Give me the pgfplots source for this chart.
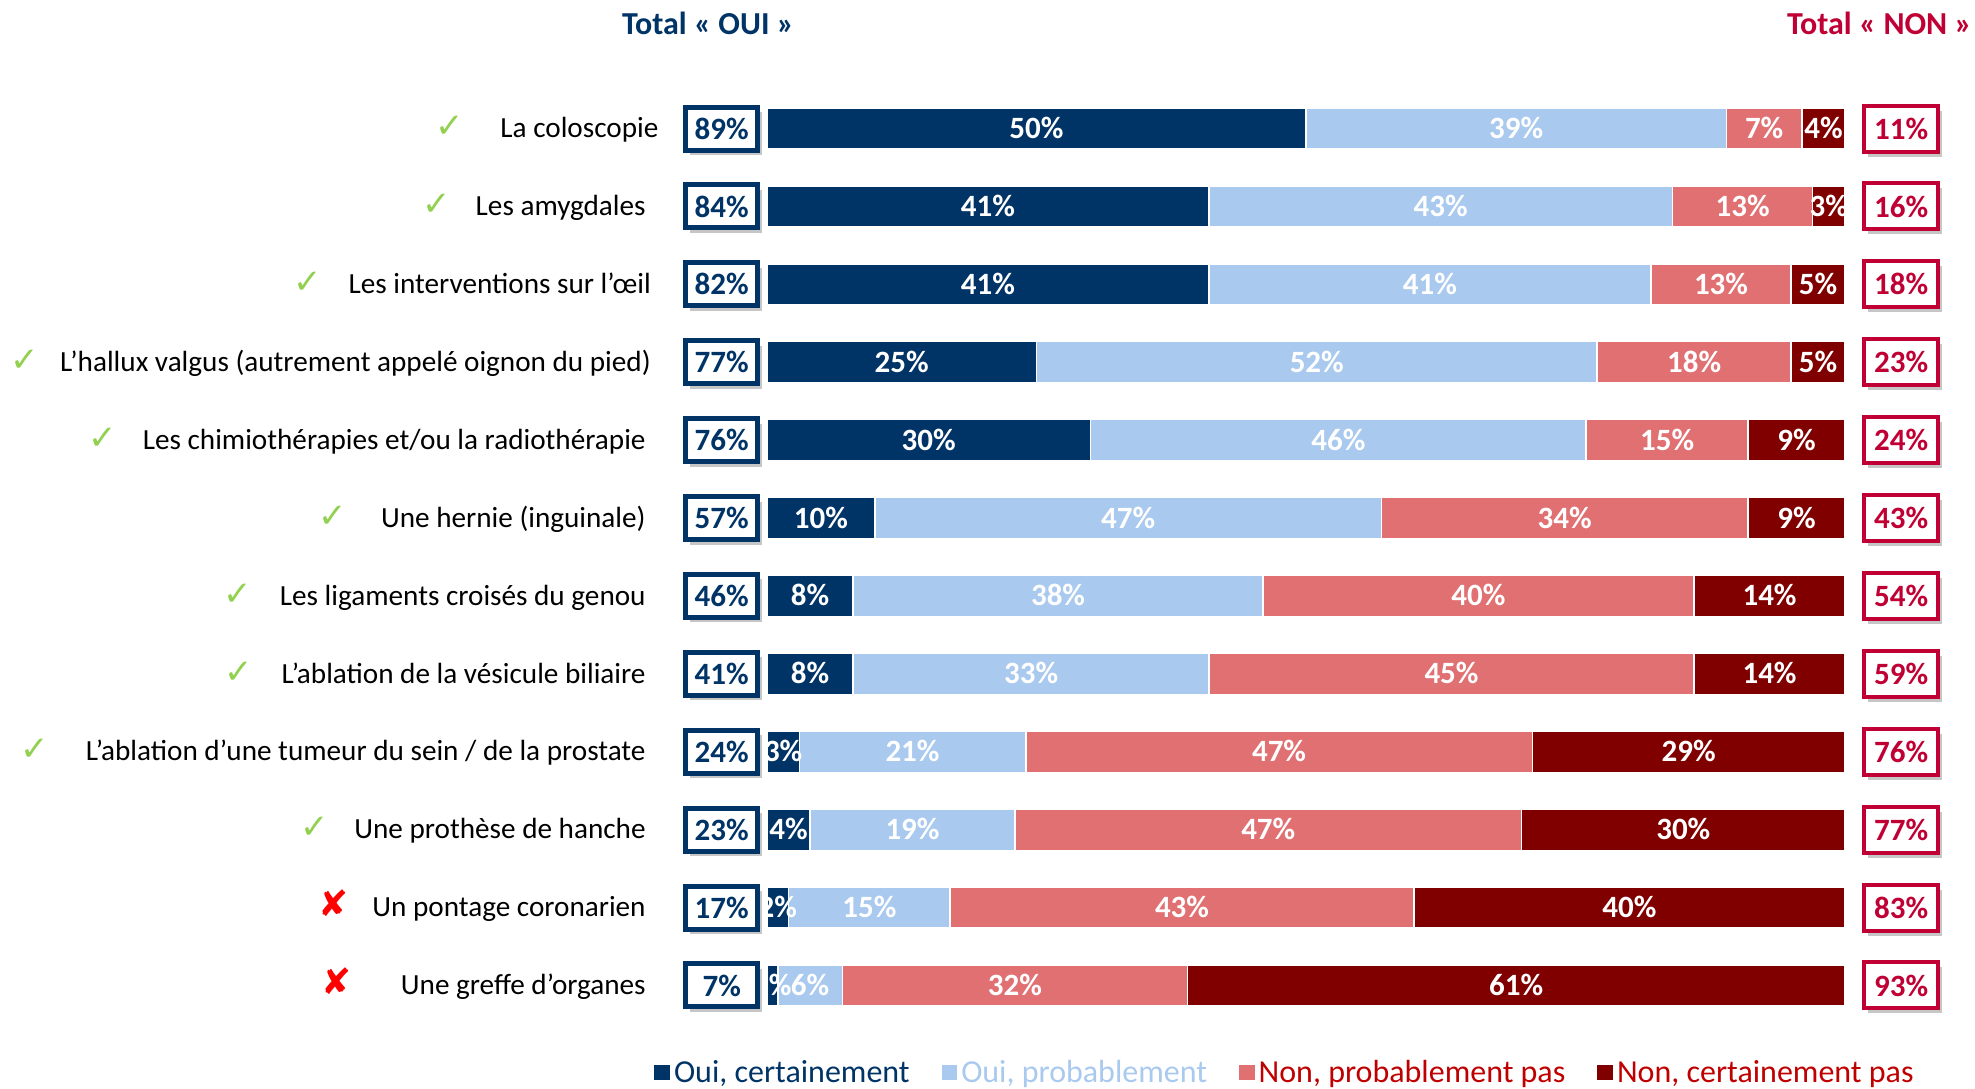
\documentclass[border=0pt]{standalone}
\usepackage{pgfplots}
\pgfplotsset{compat=1.18}
\usepackage{pgfplotstable}
\usepackage{fontspec}
\setmainfont{Carlito}
\newfontfamily\dejavu{DejaVu Sans}
\usetikzlibrary{shadows}
\definecolor{navy}{RGB}{0,51,102}
\definecolor{lblue}{RGB}{169,201,238}
\definecolor{salmon}{RGB}{224,112,114}
\definecolor{dred}{RGB}{128,0,0}
\definecolor{crim}{RGB}{192,0,52}
\definecolor{nonred}{RGB}{192,0,0}
\definecolor{chkgreen}{RGB}{146,208,80}
\definecolor{xred}{RGB}{255,0,0}

\pgfplotstableread{
y a b c d oui non xl xr
0 50 39 7 4 89 11 -4.2 105.2
1 41 43 13 3 84 16 -4.2 105.2
2 41 41 13 5 82 18 -4.2 105.2
3 25 52 18 5 77 23 -4.2 105.2
4 30 46 15 9 76 24 -4.2 105.2
5 10 47 34 9 57 43 -4.2 105.2
6 8 38 40 14 46 54 -4.2 105.2
7 8 33 45 14 41 59 -4.2 105.2
8 3 21 47 29 24 76 -4.2 105.2
9 4 19 47 30 23 77 -4.2 105.2
10 2 15 43 40 17 83 -4.2 105.2
11 1 6 32 61 7 93 -4.2 105.2
}\data

\newcommand{\chk}[1]{{\dejavu\fontsize{17}{17}\selectfont\textcolor{chkgreen}{✓}}\hspace{#1}}
\newcommand{\xx}[1]{{\dejavu\fontsize{18}{18}\selectfont\bfseries\textcolor{xred}{✘}}\hspace{#1}}

\begin{document}
\begin{tikzpicture}
\useasboundingbox (0,0) rectangle (987.5pt,-544pt);
\begin{axis}[
  at={(383.5pt,-44.8pt)}, anchor=north west,
  scale only axis, width=539pt, height=467.4pt,
  xbar stacked, bar width=0.53,
  xmin=0, xmax=100, ymin=-0.5, ymax=11.5, y dir=reverse,
  axis line style={draw=none}, tick style={draw=none},
  xtick=\empty, ytick={0,...,11},
  yticklabels={
    {\chk{18.3pt}La coloscopie\kern-6.4pt},
    {\chk{12.6pt}Les amygdales},
    {\chk{13.2pt}Les interventions sur l’œil\kern-2.6pt},
    {\chk{10.8pt}L’hallux valgus (autrement appelé oignon du pied)\kern-2.6pt},
    {\chk{12.7pt}Les chimiothérapies et/ou la radiothérapie},
    {\chk{17pt}Une hernie (inguinale)},
    {\chk{13.8pt}Les ligaments croisés du genou},
    {\chk{14.5pt}L’ablation de la vésicule biliaire},
    {\chk{18.4pt}L’ablation d’une tumeur du sein / de la prostate},
    {\chk{12.6pt}Une prothèse de hanche},
    {\xx{12pt}Un pontage coronarien},
    {\xx{24.5pt}Une greffe d’organes}},
  major tick length=0pt,
  yticklabel style={anchor=base east, inner sep=0pt, xshift=-60.5pt, yshift=-4.6pt, font=\fontsize{14.6}{16}\selectfont},
  clip=false,
  visualization depends on=rawx \as \rawx,
  nodes near coords={\pgfmathprintnumber[assume math mode=true]{\rawx}\%},
  every node near coord/.append style={font=\bfseries\fontsize{15.5}{16}\selectfont, text=white, anchor=base, yshift=-5pt},
  legend style={at={(axis description cs:-0.1048,-0.0515)}, anchor=west, draw=none, fill=none, inner sep=0pt, legend columns=4, font=\fontsize{16}{18}\selectfont, /tikz/every even column/.append style={column sep=14pt}},
  legend cell align=left,
]
\addplot[fill=navy, draw=white, line width=0.8pt, legend image code/.code={\fill[navy] (0pt,-3.5pt) rectangle (7pt,3.5pt);}] table[x=a, y=y]{\data};
\addlegendentry{\textcolor{navy}{Oui, certainement}}
\addplot[fill=lblue, draw=white, line width=0.8pt, legend image code/.code={\fill[lblue] (0pt,-3.5pt) rectangle (7pt,3.5pt);}] table[x=b, y=y]{\data};
\addlegendentry{\textcolor{lblue}{Oui, probablement}}
\addplot[fill=salmon, draw=white, line width=0.8pt, legend image code/.code={\fill[salmon] (0pt,-3.5pt) rectangle (7pt,3.5pt);}] table[x=c, y=y]{\data};
\addlegendentry{\textcolor{nonred}{Non, probablement pas}}
\addplot[fill=dred, draw=white, line width=0.8pt, legend image code/.code={\fill[dred] (0pt,-3.5pt) rectangle (7pt,3.5pt);}] table[x=d, y=y]{\data};
\addlegendentry{\textcolor{nonred}{Non, certainement pas}}
\end{axis}

\begin{axis}[
  at={(383.5pt,-44.8pt)}, anchor=north west,
  scale only axis, width=539pt, height=467.4pt,
  xmin=0, xmax=100, ymin=-0.5, ymax=11.5, y dir=reverse,
  hide axis, clip=false,
]
\addplot[draw=none, mark=none, point meta=explicit symbolic,
  nodes near coords={\pgfplotspointmeta\%},
  every node near coord/.append style={anchor=center, draw=navy, line width=2.5pt, fill=white, text=navy,
    font=\bfseries\fontsize{15.5}{16}\selectfont, minimum width=36pt, minimum height=21.5pt, inner sep=0pt,
    drop shadow={shadow xshift=2pt, shadow yshift=-2.5pt, opacity=0.45}}]
  table[x=xl, y=y, meta=oui]{\data};
\addplot[draw=none, mark=none, point meta=explicit symbolic,
  nodes near coords={\pgfplotspointmeta\%},
  every node near coord/.append style={anchor=center, draw=crim, line width=2pt, fill=white, text=crim,
    font=\bfseries\fontsize{15.5}{16}\selectfont, minimum width=37pt, minimum height=23pt, inner sep=0pt,
    drop shadow={shadow xshift=2pt, shadow yshift=-2.5pt, opacity=0.45}}]
  table[x=xr, y=y, meta=non]{\data};
\end{axis}

\node[font=\bfseries\fontsize{16}{18}\selectfont, text=navy] at (354pt,-11.5pt) {Total « OUI »};
\node[font=\bfseries\fontsize{16}{18}\selectfont, text=crim] at (939.7pt,-11.5pt) {Total « NON »};
\end{tikzpicture}
\end{document}
